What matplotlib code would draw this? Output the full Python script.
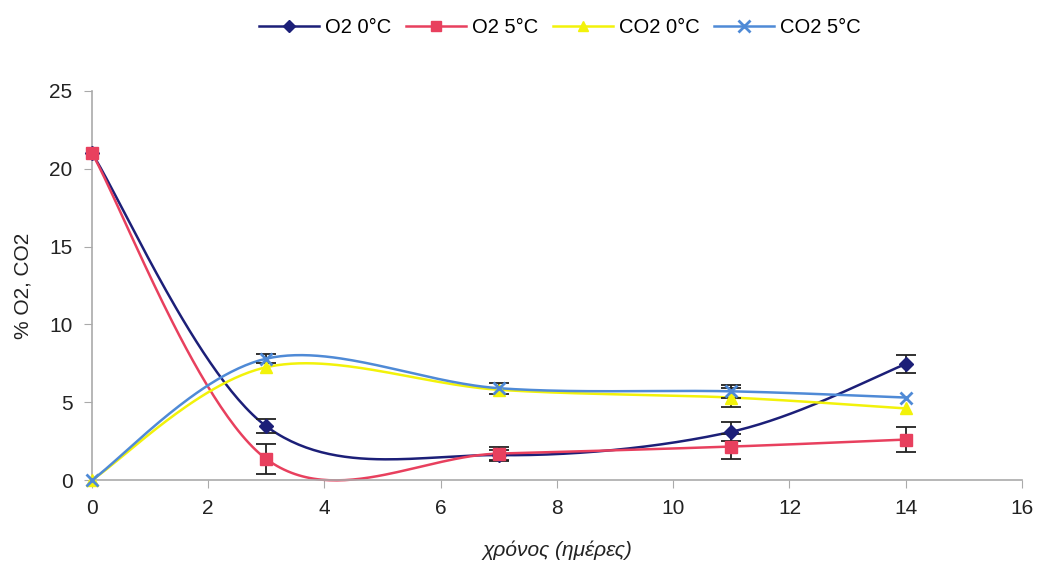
import numpy as np
import matplotlib
matplotlib.use("Agg")
import matplotlib.pyplot as plt
from matplotlib.lines import Line2D

plt.rcParams['font.family'] = ['Liberation Sans', 'DejaVu Sans']

days = [0, 3, 7, 11, 14]

o2_0 = [21.0, 3.45, 1.6, 3.1, 7.45]
o2_0_err = [0.0, 0.45, 0.35, 0.6, 0.6]
o2_5 = [21.0, 1.35, 1.7, 2.15, 2.6]
o2_5_err = [0.0, 0.95, 0.4, 0.8, 0.8]
co2_0 = [0.0, 7.25, 5.8, 5.3, 4.6]
co2_0_err = [0.0, 0.0, 0.0, 0.6, 0.0]
co2_5 = [0.0, 7.8, 5.9, 5.7, 5.3]
co2_5_err = [0.0, 0.3, 0.35, 0.4, 0.0]

labels = ['O2 0°C', 'O2 5°C', 'CO2 0°C', 'CO2 5°C']
colors = ['#1c1f78', '#e8405e', '#f2f20a', '#4f8ad6']
markers = ['D', 's', '^', 'x']
msizes = [7, 8, 8, 9]


def smooth(x, y, n=60):
    """Piecewise cubic Bezier through the points (Catmull-Rom style)."""
    p = np.column_stack([x, y]).astype(float)
    pts = []
    for i in range(len(p) - 1):
        p0 = p[i - 1] if i > 0 else p[i]
        p1, p2 = p[i], p[i + 1]
        p3 = p[i + 2] if i + 2 < len(p) else p[i + 1]
        b1 = p1 + (p2 - p0) / 6.0
        b2 = p2 - (p3 - p1) / 6.0
        t = np.linspace(0, 1, n)[:, None]
        seg = ((1 - t) ** 3) * p1 + 3 * ((1 - t) ** 2) * t * b1 \
            + 3 * (1 - t) * t ** 2 * b2 + t ** 3 * p2
        pts.append(seg if i == 0 else seg[1:])
    s = np.vstack(pts)
    return s[:, 0], s[:, 1]


fig = plt.figure(figsize=(10.37, 5.65), dpi=100)
ax = fig.add_axes([0.0887, 0.1504, 0.8968, 0.6886])

series = [(o2_0, o2_0_err), (o2_5, o2_5_err), (co2_0, co2_0_err), (co2_5, co2_5_err)]
handles = []
for (vals, errs), lab, c, m, ms in zip(series, labels, colors, markers, msizes):
    sx, sy = smooth(days, vals)
    ax.plot(sx, sy, color=c, lw=1.8, zorder=2, clip_on=False)
    ex = [d for d, e in zip(days, errs) if e > 0]
    ey = [v for v, e in zip(vals, errs) if e > 0]
    ee = [e for e in errs if e > 0]
    ax.errorbar(ex, ey, yerr=ee, fmt='none', ecolor='#222222', elinewidth=1.3,
                capsize=7, capthick=1.3, zorder=3)
    ax.plot(days, vals, ls='none', marker=m, color=c, markersize=ms,
            markeredgewidth=2 if m == 'x' else 1, zorder=4, clip_on=False)
    handles.append(Line2D([0], [0], color=c, lw=1.8, marker=m, markersize=ms - 1,
                          markeredgewidth=2 if m == 'x' else 1))

ax.set_xlim(0, 16)
ax.set_ylim(0, 25)
ax.set_xticks(range(0, 17, 2))
ax.set_yticks(range(0, 26, 5))
for s in ['top', 'right']:
    ax.spines[s].set_visible(False)
for s in ['left', 'bottom']:
    ax.spines[s].set_color('#aaaaaa')
    ax.spines[s].set_linewidth(1.2)
ax.tick_params(axis='both', direction='out', length=6, color='#aaaaaa',
               labelsize=15, labelcolor='#222222', pad=8)

ax.set_ylabel('% O2, CO2', fontsize=15, color='#222222', labelpad=12)
ax.set_xlabel('χρόνος (ημέρες)', fontsize=15, style='italic', color='#222222',
              labelpad=16)

fig.legend(handles, labels, loc='upper center', bbox_to_anchor=(0.54, 1.0),
           ncol=4, frameon=False, fontsize=14.5, handlelength=3,
           columnspacing=0.7, handletextpad=0.3)

fig.savefig('out.png', dpi=100, facecolor='white')
